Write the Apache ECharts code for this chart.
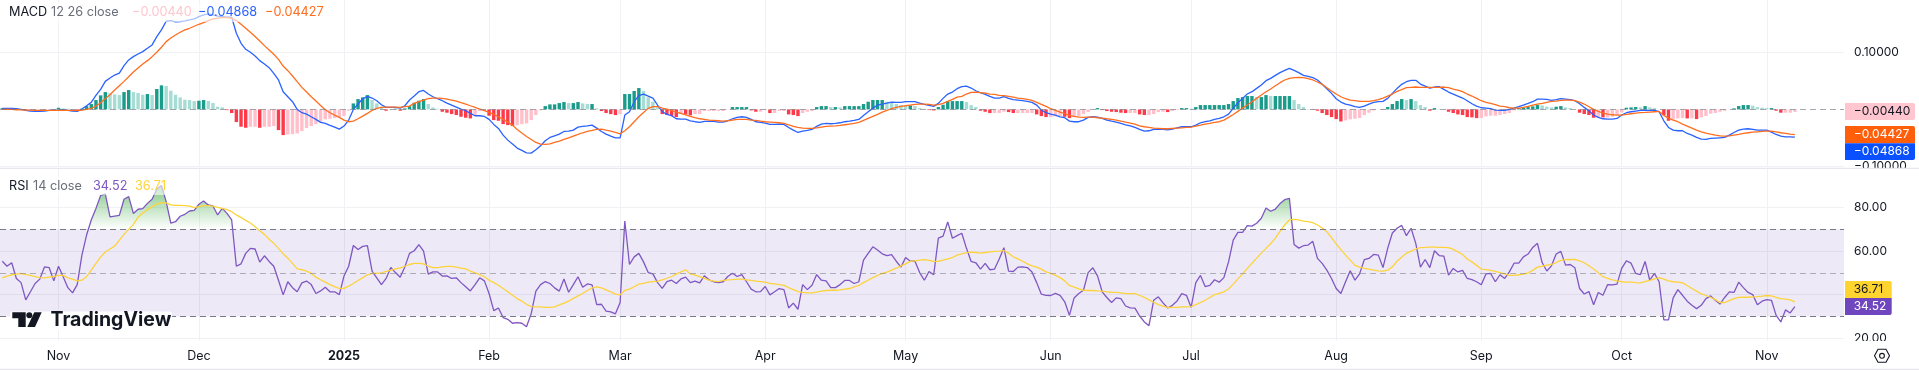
<!DOCTYPE html>
<html>
<head>
<meta charset="utf-8">
<title>MACD RSI</title>
<script src="https://cdn.jsdelivr.net/npm/echarts@6/dist/echarts.min.js"></script>
<style>
  html, body {margin: 0; padding: 0; background: #fff; overflow: hidden;}
  #chart {width: 1919px; height: 371px;}
</style>
</head>
<body>
<div id="chart"></div>
<script>
const macdLine = [
  .0018,.0018,.0018,.0012,0,-.0018,-.0029,-.0035,-.0035,-.0029,-.0018,-.0018,-.0012,-.0006,-.0018,-.0029,-.0035,.0006,.0064,.0123,.0246,.0351,.0491,.0550,.0602,.0637,.0766,.0866,.0924,.0971,.1012,.1070,.1129,.1275,.1392,.1544,.1556,.1532,.1538,.1550,.1567,.1585,.1626,.1655,.1673,.1655,.1632,.1626,.1614,.1614,.1333,.1158,.1053,.1000,.0936,.0854,.0796,.0731,.0632,.0515,.0310,.0222,.0135,0,-.0058,-.0082,-.0129,-.0175,-.0228,-.0246,-.0281,-.0310,-.0345,-.0292,-.0187,0,.0094,.0187,.0228,.0199,.0152,.0082,.0035,.0035,.0035,.0023,.0064,.0164,.0234,.0310,.0333,.0269,.0222,.0187,.0152,.0111,.0076,.0041,.0006,-.0023,-.0070,-.0111,-.0111,
  -.0123,-.0175,-.0263,-.0333,-.0450,-.0538,-.0608,-.0678,-.0719,-.0760,-.0766,-.0708,-.0637,-.0550,-.0491,-.0462,-.0433,-.0386,-.0380,-.0363,-.0310,-.0298,-.0287,-.0275,-.0328,-.0386,-.0433,-.0468,-.0497,-.0497,-.0099,-.0041,.0135,.0240,.0269,.0234,.0199,.0076,-.0041,-.0088,-.0111,-.0164,-.0170,-.0170,-.0199,-.0216,-.0228,-.0211,-.0211,-.0211,-.0222,-.0222,-.0199,-.0164,-.0140,-.0129,-.0140,-.0175,-.0216,-.0228,-.0240,-.0263,-.0263,-.0257,-.0263,-.0316,-.0363,-.0404,-.0380,-.0369,-.0351,-.0298,-.0257,-.0246,-.0251,-.0246,-.0234,-.0216,-.0205,-.0193,-.0175,-.0105,-.0041,.0018,.0076,.0094,.0111,.0129,.0123,.0123,.0135,.0135,.0135,.0111,.0088,.0070,.0053,.0105,.0193,.0269,.0304,.0363,
  .0398,.0409,.0374,.0327,.0292,.0263,.0228,.0199,.0199,.0222,.0193,.0170,.0164,.0152,.0140,.0123,.0076,-.0012,-.0058,-.0082,-.0099,-.0129,-.0146,-.0205,-.0216,-.0216,-.0187,-.0140,-.0129,-.0135,-.0158,-.0187,-.0205,-.0222,-.0246,-.0269,-.0287,-.0316,-.0351,-.0380,-.0374,-.0351,-.0345,-.0351,-.0357,-.0345,-.0322,-.0304,-.0304,-.0304,-.0275,-.0234,-.0216,-.0199,-.0175,-.0158,-.0129,-.0082,.0018,.0117,.0193,.0269,.0310,.0368,.0427,.0503,.0544,.0596,.0643,.0684,.0719,.0684,.0643,.0596,.0579,.0556,.0515,.0439,.0363,.0281,.0187,.0129,.0094,.0076,.0047,.0035,.0058,.0094,.0123,.0135,.0140,.0193,.0281,.0368,.0439,.0485,.0509,.0509,.0444,.0409,.0374,.0392,.0398,
  .0351,.0304,.0269,.0234,.0199,.0152,.0099,.0058,.0029,.0023,.0012,-.0012,-.0018,-.0018,0,.0023,.0047,.0076,.0105,.0135,.0181,.0181,.0175,.0158,.0170,.0187,.0181,.0170,.0152,.0099,.0035,-.0023,-.0099,-.0140,-.0164,-.0170,-.0170,-.0158,-.0099,-.0058,-.0041,-.0029,-.0018,-.0012,-.0018,-.0018,-.0041,-.0199,-.0316,-.0363,-.0374,-.0374,-.0421,-.0450,-.0491,-.0520,-.0526,-.0509,-.0503,-.0497,-.0491,-.0450,-.0404,-.0363,-.0345,-.0339,-.0351,-.0363,-.0363,-.0363,-.0398,-.0439,-.0468,-.0480,-.0480,-.04868
]
const signalLine = [
  0,0,0,-.0006,-.0006,-.0012,-.0012,-.0018,-.0018,-.0018,-.0018,-.0018,-.0018,-.0012,-.0018,-.0018,-.0023,-.0012,0,.0018,.0058,.0117,.0187,.0257,.0339,.0415,.0491,.0573,.0655,.0725,.0795,.0854,.0924,.1000,.1088,.1187,.1251,.1304,.1351,.1392,.1421,.1456,.1491,.1520,.1556,.1585,.1597,.1608,.1608,.1597,.1556,.1491,.1421,.1351,.1275,.1199,.1117,.1041,.0965,.0877,.0760,.0678,.0585,.0485,.0386,.0304,.0222,.0146,.0070,-.0006,-.0058,-.0099,-.0140,-.0187,-.0216,-.0205,-.0164,-.0117,-.0070,-.0018,.0018,.0035,.0041,.0041,.0041,.0035,.0047,.0058,.0105,.0135,.0164,.0187,.0199,.0199,.0193,.0181,.0164,.0146,.0117,.0094,.0064,.0035,.0006,
  -.0023,-.0053,-.0088,-.0129,-.0175,-.0222,-.0275,-.0351,-.0415,-.0474,-.0526,-.0579,-.0608,-.0614,-.0602,-.0579,-.0556,-.0526,-.0497,-.0468,-.0439,-.0409,-.0386,-.0369,-.0351,-.0345,-.0363,-.0380,-.0404,-.0427,-.0374,-.0304,-.0216,-.0129,-.0053,.0018,.0047,.0047,.0023,.0006,-.0023,-.0047,-.0070,-.0094,-.0123,-.0146,-.0164,-.0175,-.0187,-.0193,-.0199,-.0205,-.0199,-.0187,-.0175,-.0175,-.0175,-.0187,-.0193,-.0205,-.0216,-.0222,-.0228,-.0234,-.0246,-.0269,-.0298,-.0316,-.0327,-.0333,-.0333,-.0322,-.0310,-.0298,-.0292,-.0287,-.0281,-.0269,-.0257,-.0246,-.0228,-.0193,-.0158,-.0123,-.0088,-.0047,-.0018,.0012,.0035,.0053,.0064,.0076,.0088,.0094,.0094,.0088,.0076,.0082,.0105,.0140,.0175,.0216,
  .0228,.0269,.0298,.0304,.0292,.0287,.0269,.0263,.0246,.0240,.0228,.0216,.0199,.0187,.0175,.0158,.0123,.0088,.0053,.0012,-.0018,-.0047,-.0076,-.0105,-.0123,-.0135,-.0140,-.0135,-.0135,-.0146,-.0152,-.0164,-.0175,-.0187,-.0205,-.0222,-.0240,-.0257,-.0287,-.0304,-.0316,-.0327,-.0333,-.0339,-.0339,-.0333,-.0327,-.0322,-.0316,-.0310,-.0292,-.0275,-.0257,-.0246,-.0228,-.0216,-.0187,-.0140,-.0088,-.0035,.0023,.0076,.0135,.0193,.0251,.0310,.0357,.0415,.0468,.0515,.0544,.0556,.0561,.0556,.0538,.0515,.0480,.0439,.0380,.0322,.0269,.0222,.0187,.0164,.0152,.0140,.0140,.0140,.0152,.0170,.0199,.0234,.0269,.0316,.0345,.0380,.0386,.0392,.0386,.0386,.0386,.0386,.0386,
  .0392,.0380,.0357,.0339,.0310,.0269,.0234,.0193,.0152,.0123,.0105,.0082,.0058,.0047,.0029,.0023,.0023,.0035,.0053,.0076,.0094,.0105,.0123,.0140,.0146,.0158,.0164,.0164,.0152,.0129,.0094,.0047,0,-.0035,-.0064,-.0082,-.0094,-.0099,-.0099,-.0088,-.0076,-.0064,-.0058,-.0053,-.0047,-.0041,-.0035,-.0105,-.0152,-.0187,-.0216,-.0257,-.0292,-.0327,-.0363,-.0392,-.0415,-.0433,-.0450,-.0462,-.0468,-.0462,-.0450,-.0439,-.0421,-.0409,-.0398,-.0392,-.0386,-.0380,-.0380,-.0392,-.0409,-.0421,-.0433,-.04427
]
const histValues = [
  .0023,.0018,.0012,.0006,0,-.0018,-.0018,-.0018,-.0018,-.0006,0,.0006,.0029,.0018,.0012,.0006,-.0012,.0012,.0058,.0094,.0164,.0246,.0304,.0281,.0263,.0251,.0304,.0339,.0304,.0287,.0257,.0269,.0251,.0357,.0421,.0409,.0327,.0257,.0211,.0170,.0164,.0146,.0152,.0164,.0146,.0111,.0047,.0035,-.0012,-.0064,-.0222,-.0304,-.0322,-.0304,-.0304,-.0322,-.0304,-.0304,-.0292,-.0363,-.0450,-.0439,-.0433,-.0421,-.0380,-.0328,-.0292,-.0257,-.0222,-.0175,-.0164,-.0152,-.0140,-.0117,-.0023,.0105,.0181,.0211,.0251,.0164,.0105,.0047,-.0023,-.0012,.0012,-.0023,.0018,.0058,.0117,.0152,.0181,.0094,.0035,.0012,-.0041,-.0058,-.0082,-.0099,-.0129,-.0146,-.0158,-.0099,-.0029,
  -.0023,-.0111,-.0187,-.0199,-.0257,-.0275,-.0292,-.0275,-.0257,-.0246,-.0187,-.0099,-.0018,.0058,.0088,.0088,.0111,.0129,.0111,.0111,.0129,.0105,.0094,.0094,.0018,-.0029,-.0064,-.0082,-.0099,-.0082,.0269,.0269,.0322,.0374,.0322,.0211,.0135,.0035,-.0082,-.0099,-.0117,-.0135,-.0082,-.0088,-.0105,-.0082,-.0082,-.0029,-.0029,-.0029,-.0029,-.0029,-.0006,.0041,.0041,.0041,.0041,-.0018,-.0041,-.0041,-.0012,-.0064,-.0064,-.0029,-.0029,-.0088,-.0099,-.0117,-.0064,-.0041,-.0029,.0041,.0058,.0058,.0041,.0041,.0035,.0058,.0058,.0058,.0058,.0094,.0135,.0164,.0164,.0164,.0135,.0117,.0094,.0076,.0070,.0070,.0058,.0023,0,-.0012,-.0018,.0041,.0082,.0146,.0146,.0146,
  .0146,.0129,.0076,.0041,-.0023,-.0041,-.0064,-.0064,-.0064,-.0041,-.0047,-.0064,-.0064,-.0064,-.0064,-.0064,-.0088,-.0117,-.0135,-.0135,-.0123,-.0117,-.0129,-.0152,-.0135,-.0123,-.0082,-.0047,0,.0023,-.0012,-.0029,-.0041,-.0047,-.0058,-.0064,-.0064,-.0064,-.0088,-.0099,-.0099,-.0082,-.0047,-.0041,-.0047,-.0029,-.0012,.0023,.0023,.0012,.0041,.0076,.0076,.0076,.0076,.0076,.0076,.0094,.0146,.0199,.0216,.0234,.0234,.0216,.0216,.0251,.0234,.0234,.0234,.0234,.0234,.0164,.0094,.0041,.0006,-.0006,-.0023,-.0064,-.0099,-.0135,-.0170,-.0211,-.0193,-.0175,-.0164,-.0152,-.0099,-.0058,-.0018,0,-.0006,.0041,.0094,.0146,.0181,.0164,.0181,.0146,.0076,.0041,-.0023,.0023,.0006,
  0,-.0041,-.0064,-.0088,-.0099,-.0135,-.0140,-.0152,-.0152,-.0123,-.0111,-.0111,-.0099,-.0082,-.0064,-.0018,.0023,.0035,.0047,.0053,.0076,.0070,.0047,.0035,.0047,.0058,.0035,.0023,0,-.0058,-.0082,-.0099,-.0146,-.0135,-.0140,-.0140,-.0129,-.0099,-.0053,.0029,.0035,.0041,.0035,.0058,.0035,.0023,0,-.0099,-.0199,-.0175,-.0158,-.0152,-.0158,-.0158,-.0170,-.0140,-.0117,-.0076,-.0064,-.0041,-.0023,0,.0018,.0058,.0076,.0076,.0064,.0041,.0029,.0023,.0023,-.0023,-.0058,-.0058,-.0058,-.0044
]
const rsiLine = [
  55.3,53.0,54.6,47.4,45.5,37.6,41.3,45.1,47.1,52.7,52.4,46.3,53.0,48.2,43.2,40.8,44.6,58.1,67.3,74.2,79.5,85.4,86.1,75.6,76.0,76.3,83.7,84.9,77.2,79.1,79.4,81.8,83.7,88.4,90.0,82.6,72.8,73.4,75.9,76.8,78.3,78.6,81.4,82.9,81.1,80.6,76.5,79.5,77.2,74.2,53.0,54.1,58.9,61.2,60.9,54.9,57.8,55.2,53.0,46.6,39.9,45.9,43.2,41.3,45.4,46.2,44.6,40.5,41.7,43.4,41.3,41.3,40.0,48.5,53.0,62.5,60.7,62.1,62.4,50.8,47.7,44.6,47.4,52.4,50.1,48.0,52.7,58.9,60.1,62.9,59.9,49.4,50.4,50.4,48.5,48.6,47.4,47.7,45.5,43.6,41.7,44.6,47.7,
  46.3,40.5,32.7,33.9,29.5,28.7,26.9,27.2,26.9,25.3,31.3,41.6,44.6,46.0,45.1,43.1,41.6,47.2,41.1,44.6,48.2,43.4,44.9,44.5,35.4,35.6,32.4,32.1,31.2,36.4,73.7,53.8,57.3,58.9,55.0,50.1,49.5,45.5,42.9,46.0,46.6,45.1,47.2,48.0,45.5,46.2,45.4,48.6,46.8,45.9,45.5,45.9,48.3,49.8,48.3,49.2,45.9,42.5,41.3,41.4,43.7,39.9,41.3,42.8,42.3,33.9,36.1,33.3,44.6,42.3,44.3,49.2,46.6,46.3,43.2,43.2,44.6,46.5,46.5,45.1,45.9,55.8,58.9,61.9,60.4,58.7,57.9,58.3,55.3,52.6,57.0,55.3,55.3,50.1,46.6,50.6,49.1,65.9,66.8,73.3,65.8,67.0,
  68.1,61.2,55.2,54.6,51.7,54.3,51.4,51.7,56.3,61.5,50.8,50.6,52.6,52.7,52.4,50.4,45.5,40.2,39.7,39.6,40.6,39.7,36.7,30.5,38.5,40.5,42.0,50.1,52.3,48.6,41.3,38.7,36.4,38.5,38.2,34.8,33.9,33.8,30.2,27.5,25.8,37.4,39.0,36.2,33.9,35.1,37.1,40.5,39.7,34.2,45.5,48.8,43.7,44.2,46.8,45.7,47.8,55.0,65.0,68.5,68.5,71.6,71.4,72.7,75.0,79.7,78.2,79.2,81.7,83.5,84.1,63.0,61.3,62.4,62.7,64.4,56.6,54.3,51.2,47.4,42.8,40.5,45.9,50.9,46.6,49.5,56.0,56.6,58.4,58.1,52.4,61.2,68.2,70.4,71.7,67.0,70.4,63.5,52.6,56.1,52.4,60.1,57.9,
  57.6,48.9,52.0,50.4,51.1,47.4,46.9,45.9,44.5,49.5,49.7,45.9,49.1,47.4,50.4,54.4,54.4,57.3,58.6,61.6,63.5,54.7,50.8,53.2,58.6,59.8,53.5,53.8,52.3,42.8,40.3,41.4,35.4,41.0,39.7,44.6,44.5,44.8,52.0,55.5,54.4,49.7,49.2,55.2,46.6,49.7,45.9,28.5,28.4,38.5,42.3,39.7,37.0,35.1,33.6,35.1,38.2,39.4,37.4,35.7,38.7,41.3,41.0,45.7,43.2,41.0,40.0,35.4,37.0,37.7,37.4,30.5,27.5,33.0,31.6,34.52
]
const rsiMa = [
  47.7,48.5,49.1,49.4,49.7,49.2,48.8,48.3,47.8,47.7,48.0,48.3,48.8,48.8,47.7,47.1,46.3,46.6,48.2,51.2,54.3,57.3,59.5,60.9,62.2,65.0,67.6,69.9,72.2,75.4,77.4,78.9,80.3,81.5,82.1,82.0,81.1,80.9,80.9,80.8,80.5,79.8,80.3,80.8,80.8,80.5,80.0,79.5,78.9,78.0,76.5,75.3,74.0,72.8,71.1,69.3,67.6,65.4,63.5,61.2,58.7,56.7,54.3,51.8,51.4,50.8,49.7,48.0,46.8,45.7,44.6,43.7,42.8,42.9,43.9,45.1,46.5,47.8,49.1,49.7,49.8,50.0,50.6,51.1,51.8,52.3,53.0,53.8,54.3,54.3,54.1,53.0,52.4,52.4,52.7,52.9,52.9,52.6,52.1,51.8,50.8,50.0,49.2,
  48.2,46.6,45.5,44.3,42.8,41.3,39.7,38.2,37.0,35.6,34.5,34.4,34.4,34.2,34.2,34.4,35.3,36.1,37.0,38.3,39.4,40.5,41.9,43.1,43.6,43.1,42.2,41.3,40.2,39.9,41.9,42.5,43.6,44.8,45.2,45.7,46.0,46.2,46.8,47.5,48.3,49.4,50.4,51.4,49.5,48.9,48.2,47.4,46.6,46.2,46.0,46.5,46.8,46.9,47.1,47.1,46.8,46.5,46.2,46.0,45.7,45.2,44.9,44.6,44.2,43.2,42.3,41.4,41.0,40.8,40.8,41.1,41.6,41.9,42.0,42.0,42.2,42.5,42.8,43.6,44.2,45.5,46.6,47.8,48.8,49.7,50.3,51.2,52.1,53.2,54.1,55.2,55.5,55.8,56.0,55.7,55.2,55.2,55.8,56.4,57.0,58.1,
  58.7,59.2,59.5,59.3,59.0,59.3,59.6,59.8,59.9,60.2,59.0,57.3,56.4,55.3,54.1,53.2,52.6,51.7,50.4,49.7,48.8,47.8,46.3,44.2,43.4,42.6,42.0,41.9,41.9,41.7,41.6,41.3,41.1,41.0,40.8,40.5,40.5,40.5,39.6,38.7,37.6,36.5,35.4,34.7,34.1,34.2,34.2,34.4,34.4,34.5,35.4,36.4,37.4,38.7,40.0,40.6,41.3,42.6,44.8,47.2,49.5,52.0,54.3,56.7,59.0,61.2,63.3,65.9,69.0,71.9,74.2,74.5,74.2,73.7,73.4,73.0,71.9,70.5,68.8,66.1,63.2,60.6,58.1,55.8,53.4,52.6,52.0,51.7,51.2,50.9,50.8,51.2,52.7,55.3,57.2,58.9,59.9,60.9,61.5,61.6,61.8,61.8,61.6,
  61.6,61.5,60.7,59.6,58.4,56.3,55.0,53.4,51.7,51.5,51.1,50.6,50.1,49.5,48.8,48.8,49.1,49.4,50.0,51.1,52.6,53.0,53.5,53.8,54.7,55.7,56.0,56.1,56.1,55.5,54.6,53.2,51.7,50.0,48.2,47.4,46.8,46.3,45.9,45.7,45.7,45.5,45.4,46.0,46.5,47.2,47.8,47.1,46.3,45.9,45.7,45.4,44.2,42.8,41.6,40.3,39.6,38.8,37.7,36.4,36.4,37.3,38.2,38.7,38.8,38.8,39.0,39.1,39.3,39.6,39.4,38.8,38.2,37.9,37.6,36.71
]
const tickDates = ['2024-11-01','2024-12-01','2025-01-01','2025-02-01','2025-03-01','2025-04-01','2025-05-01','2025-06-01','2025-07-01','2025-08-01','2025-09-01','2025-10-01','2025-11-01']
const tickLabels = ['Nov','Dec','2025','Feb','Mar','Apr','May','Jun','Jul','Aug','Sep','Oct','Nov']
const macdTicks = [0.1, -0.1]
const rsiGridTicks = [20, 40, 60, 80]
const rsiLabelTicks = [20, 60, 80]
const rsiLevels = [70, 50, 30]
const lastMacd = ['−0.00440', '−0.04427', '−0.04868']
const lastRsi = ['36.71', '34.52']

// one slot a day, the last ones stay empty to leave room before the price scale
const dates = []
for (let i = 0; i < 394; i++) {
  dates.push(new Date(Date.UTC(2024, 9, 20 + i)).toISOString().slice(0, 10))
}

const FONT = 'Inter'
const TAG_FONT = `12px ${FONT}`
const isTick = (i, val) => tickDates.includes(val)
const gridColor = '#f0f1f4'

const histColor = (v, i) => {
  const prev = i ? histValues[i - 1] : 0
  if (v >= 0) return v >= prev ? '#1b9b8a' : '#a6dcd3'
  return v < prev ? '#fd3a4a' : '#ffc0cb'
}

const xAxisBase = {
  type: 'category',
  data: dates,
  axisLine: {show: false},
  axisTick: {show: false, alignWithLabel: true, interval: isTick},
  splitLine: {show: true, alignWithLabel: true, interval: isTick, lineStyle: {color: gridColor}},
}

const txt = (x, y, text, fill, extra) => ({
  type: 'text',
  z: 120,
  silent: true,
  style: Object.assign({x, y, text, fill, font: `12.7px ${FONT}`, textVerticalAlign: 'middle'}, extra),
})
const box = (x, y, width, height, fill, r) => ({
  type: 'rect',
  z: 110,
  silent: true,
  shape: {x, y, width, height, r: r || 0},
  style: {fill},
})
const hline = (y, color) => ({
  type: 'line',
  z: 115,
  silent: true,
  shape: {x1: 0, y1: y, x2: 1919, y2: y},
  style: {stroke: color, lineWidth: 1.4},
})

const option = {
  animation: false,
  backgroundColor: '#fff',
  grid: [
    {left: 0, top: 0, width: 1844, height: 166.5},
    {left: 0, top: 169, width: 1844, height: 171.7},
  ],
  xAxis: [
    Object.assign({gridIndex: 0, axisLabel: {show: false}}, xAxisBase),
    Object.assign({
      gridIndex: 1,
      axisLabel: {
        interval: isTick,
        margin: 9,
        color: '#131722',
        fontFamily: FONT,
        fontSize: 12.5,
        hideOverlap: false,
        formatter: val => {
          const label = tickLabels[tickDates.indexOf(val)]
          return label === '2025' ? `{b|${label}}` : label
        },
        rich: {b: {fontFamily: FONT, fontSize: 12.5, fontWeight: 700, color: '#131722'}},
      },
    }, xAxisBase),
  ],
  yAxis: [
    {
      type: 'value',
      gridIndex: 0,
      position: 'right',
      min: -0.1,
      max: 0.1916,
      axisLine: {show: false},
      axisTick: {show: false, customValues: macdTicks},
      splitLine: {lineStyle: {color: gridColor}},
      axisLabel: {
        customValues: macdTicks,
        margin: 10,
        color: '#131722',
        fontFamily: FONT,
        fontSize: 12,
        formatter: v => v.toFixed(5).replace('-', '−'),
      },
    },
    {
      type: 'value',
      gridIndex: 1,
      position: 'right',
      min: 18.9,
      max: 97.54,
      axisLine: {show: false},
      axisTick: {show: false, customValues: rsiGridTicks},
      splitLine: {lineStyle: {color: gridColor}},
      axisLabel: {
        customValues: rsiLabelTicks,
        margin: 10,
        color: '#131722',
        fontFamily: FONT,
        fontSize: 12,
        formatter: v => v.toFixed(2),
      },
    },
  ],
  series: [
    {
      type: 'bar',
      name: 'Histogram',
      xAxisIndex: 0,
      yAxisIndex: 0,
      barWidth: 3.4,
      silent: true,
      data: histValues.map((v, i) => ({value: v, itemStyle: {color: histColor(v, i)}})),
      markLine: {
        silent: true,
        symbol: 'none',
        label: {show: false},
        lineStyle: {color: 'rgba(120,123,134,0.65)', type: [6, 4], width: 1},
        data: [{yAxis: 0}],
      },
    },
    {
      type: 'line',
      name: 'MACD',
      xAxisIndex: 0,
      yAxisIndex: 0,
      symbol: 'none',
      silent: true,
      lineStyle: {color: '#2962ff', width: 1.3},
      data: macdLine,
    },
    {
      type: 'line',
      name: 'Signal',
      xAxisIndex: 0,
      yAxisIndex: 0,
      symbol: 'none',
      silent: true,
      lineStyle: {color: '#ff6d1f', width: 1.3},
      data: signalLine,
    },
    {
      type: 'line',
      name: 'RSI',
      xAxisIndex: 1,
      yAxisIndex: 1,
      symbol: 'none',
      silent: true,
      z: 3,
      lineStyle: {color: '#7e57c2', width: 1.3},
      // fill only shows beyond the 70 and 30 levels, hence the canvas-wide gradient
      areaStyle: {
        origin: 70,
        opacity: 1,
        color: {
          type: 'linear', x: 0, y: 0, x2: 0, y2: 371, global: true,
          colorStops: [
            {offset: 0, color: 'rgba(76,175,80,0.7)'},
            {offset: 0.5, color: 'rgba(76,175,80,0.7)'},
            {offset: 0.6175, color: 'rgba(76,175,80,0)'},
            {offset: 0.853, color: 'rgba(242,54,69,0)'},
            {offset: 0.9, color: 'rgba(242,54,69,0.12)'},
            {offset: 1, color: 'rgba(242,54,69,0.12)'},
          ],
        },
      },
      data: rsiLine,
      markArea: {
        silent: true,
        itemStyle: {color: 'rgba(126,87,194,0.13)'},
        data: [[{yAxis: rsiLevels[0]}, {yAxis: rsiLevels[2]}]],
      },
      markLine: {
        silent: true,
        symbol: 'none',
        label: {show: false},
        data: [
          {yAxis: rsiLevels[0], lineStyle: {color: '#787b86', type: [6, 4], width: 1}},
          {yAxis: rsiLevels[1], lineStyle: {color: 'rgba(120,123,134,0.55)', type: [6, 4], width: 1}},
          {yAxis: rsiLevels[2], lineStyle: {color: '#787b86', type: [6, 4], width: 1}},
        ],
      },
    },
    {
      type: 'line',
      name: 'RSI MA',
      xAxisIndex: 1,
      yAxisIndex: 1,
      symbol: 'none',
      silent: true,
      z: 3,
      lineStyle: {color: '#fdd33a', width: 1.3},
      data: rsiMa,
    },
  ],
  graphic: [
    // price scale labels get cut off at the pane edges
    box(1844, 168, 75, 12, '#fff'),
    box(1844, 341, 75, 8, '#fff'),
    hline(168.4, '#e6e8ee'),
    hline(369.4, '#e6e8ee'),

    box(4, 3, 324, 19, 'rgba(255,255,255,0.6)'),
    txt(9, 12.5, 'MACD', '#131722'),
    txt(51, 12.5, '12 26 close', '#6a6d78'),
    txt(132, 12.5, lastMacd[0], '#ffc6cf'),
    txt(198, 12.5, lastMacd[2], '#2962ff'),
    txt(265, 12.5, lastMacd[1], '#ff6d1f'),

    box(4, 176, 170, 19, 'rgba(255,255,255,0.6)'),
    txt(9, 185.7, 'RSI', '#131722'),
    txt(33, 185.7, '14 close', '#6a6d78'),
    txt(93, 185.7, lastRsi[1], '#7e57c2'),
    txt(135, 185.7, lastRsi[0], '#fdd33a'),

    box(1845, 103, 70, 17, '#ffc6cf', [0, 2, 2, 0]),
    txt(1853.7, 111.8, lastMacd[0], '#131722', {font: TAG_FONT}),
    box(1845, 126, 70, 17.3, '#ff5f0a', [0, 2, 0, 0]),
    txt(1853.7, 134.8, lastMacd[1], '#fff', {font: TAG_FONT}),
    box(1845, 143.3, 70, 16.7, '#0a50ff', [0, 0, 2, 0]),
    txt(1853.7, 151.8, lastMacd[2], '#fff', {font: TAG_FONT}),

    box(1845, 281, 46.7, 17, '#ffd42e', [0, 2, 0, 0]),
    txt(1853.7, 289.6, lastRsi[0], '#131722', {font: TAG_FONT}),
    box(1845, 298, 46.7, 17, '#6f46bd', [0, 0, 2, 0]),
    txt(1853.7, 306.6, lastRsi[1], '#fff', {font: TAG_FONT}),

    // TradingView mark
    box(10, 311.5, 162, 19, '#fff', 3),
    {type: 'polygon', z: 120, silent: true, shape: {points: [[12.3, 312.3], [25.7, 312.3], [25.7, 327], [18.3, 327], [18.3, 318.3], [12.3, 318.3]]}, style: {fill: '#131722'}},
    {type: 'circle', z: 120, silent: true, shape: {cx: 29.3, cy: 315.3, r: 3}, style: {fill: '#131722'}},
    {type: 'polygon', z: 120, silent: true, shape: {points: [[34.3, 312.3], [41.7, 312.3], [35, 327], [27.3, 327]]}, style: {fill: '#131722'}},
    txt(50.5, 319.8, 'TradingView', '#131722', {font: `700 19.5px ${FONT}`}),

    // settings button
    {type: 'polygon', z: 120, silent: true, shape: {points: [[1874.5, 355.8], [1878, 349.3], [1886, 349.3], [1889.5, 355.8], [1886, 362.3], [1878, 362.3]]}, style: {fill: 'none', stroke: '#131722', lineWidth: 1.1}},
    {type: 'circle', z: 120, silent: true, shape: {cx: 1882, cy: 355.8, r: 2.4}, style: {fill: 'none', stroke: '#131722', lineWidth: 1.1}},
  ],
}

const chart = echarts.init(document.getElementById('chart'), null, {renderer: 'canvas', width: 1919, height: 371})
chart.setOption(option)
</script>
</body>
</html>
